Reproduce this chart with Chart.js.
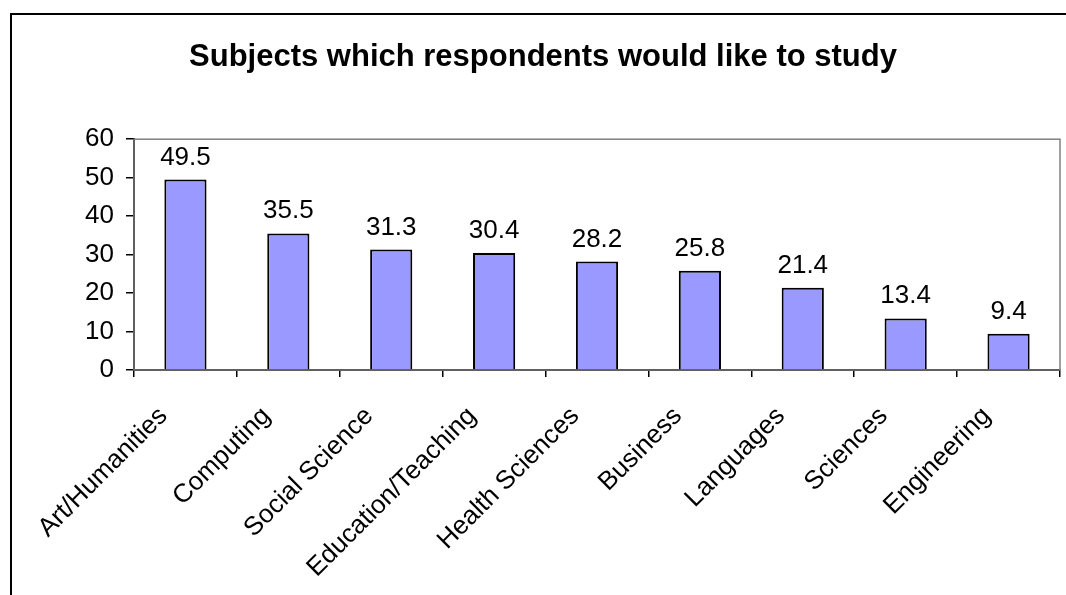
<!DOCTYPE html>
<html>
<head>
<meta charset="utf-8">
<script src="https://cdn.jsdelivr.net/npm/chart.js@4/dist/chart.umd.min.js"></script>
<style>
  html, body { margin: 0; padding: 0; background: #fff; }
  #frame {
    position: absolute; left: 10px; top: 13px;
    width: 1056px; height: 582px;
    border-left: 2px solid #000; border-top: 2px solid #000;
  }
  #wrap { position: absolute; left: 0; top: 0; width: 1054px; height: 580px; }
</style>
</head>
<body>
<div id="frame"><div id="wrap"><canvas id="chart"></canvas></div></div>
<script>
var subjects = ['Art/Humanities', 'Computing', 'Social Science', 'Education/Teaching',
  'Health Sciences', 'Business', 'Languages', 'Sciences', 'Engineering'];
var percentages = [49.5, 35.5, 31.3, 30.4, 28.2, 25.8, 21.4, 13.4, 9.4];
var yTicks = [0, 10, 20, 30, 40, 50, 60];

var FONT = "'Liberation Sans', Arial, sans-serif";

// gray frame on top/right of plot area, like the Excel original
var plotFrame = {
  id: 'plotFrame',
  beforeDatasetsDraw: function(chart) {
    var a = chart.chartArea, ctx = chart.ctx;
    ctx.save();
    ctx.strokeStyle = '#808080';
    ctx.lineWidth = 1.5;
    ctx.strokeRect(a.left, a.top, a.right - a.left, a.bottom - a.top);
    ctx.restore();
  }
};

// value labels above each bar
var valueLabels = {
  id: 'valueLabels',
  afterDatasetsDraw: function(chart) {
    var ctx = chart.ctx;
    var meta = chart.getDatasetMeta(0);
    ctx.save();
    ctx.font = '26px ' + FONT;
    ctx.fillStyle = '#000';
    ctx.textAlign = 'center';
    ctx.textBaseline = 'alphabetic';
    meta.data.forEach(function(bar, i) {
      ctx.fillText(percentages[i].toFixed(1), bar.x, bar.y - 15);
    });
    ctx.restore();
  }
};

var ctx = document.getElementById('chart');
new Chart(ctx, {
  type: 'bar',
  data: {
    labels: subjects,
    datasets: [{
      data: percentages,
      backgroundColor: '#9999FF',
      borderColor: '#000',
      borderWidth: 2,
      barPercentage: 0.41,
      categoryPercentage: 1
    }]
  },
  options: {
    responsive: true,
    maintainAspectRatio: false,
    animation: false,
    layout: { padding: { left: 14, right: 6, top: 0, bottom: 0 } },
    plugins: {
      legend: { display: false },
      tooltip: { enabled: false },
      title: {
        display: true,
        text: 'Subjects which respondents would like to study',
        color: '#000',
        font: { family: FONT, size: 31, weight: 'bold' },
        padding: { top: 24, bottom: 63 }
      }
    },
    scales: {
      x: {
        grid: { offset: true, drawOnChartArea: false, drawTicks: true, tickLength: 7, color: '#000', lineWidth: 1.5 },
        border: { color: '#000', width: 2 },
        ticks: {
          color: '#000', minRotation: 45, maxRotation: 45, padding: 24, labelOffset: -22,
          font: { family: FONT, size: 26 }
        },
        afterFit: function(s) { s.height = 225; }
      },
      y: {
        min: 0, max: 60,
        afterBuildTicks: function(s) { s.ticks = yTicks.map(function(v) { return { value: v }; }); },
        grid: { drawOnChartArea: false, drawTicks: true, tickLength: 8, color: '#000', lineWidth: 1.5 },
        border: { color: '#000', width: 2 },
        ticks: { color: '#000', padding: 12, font: { family: FONT, size: 26 } },
        afterFit: function(s) { s.width = 108; }
      }
    }
  },
  plugins: [plotFrame, valueLabels]
});
</script>
</body>
</html>
